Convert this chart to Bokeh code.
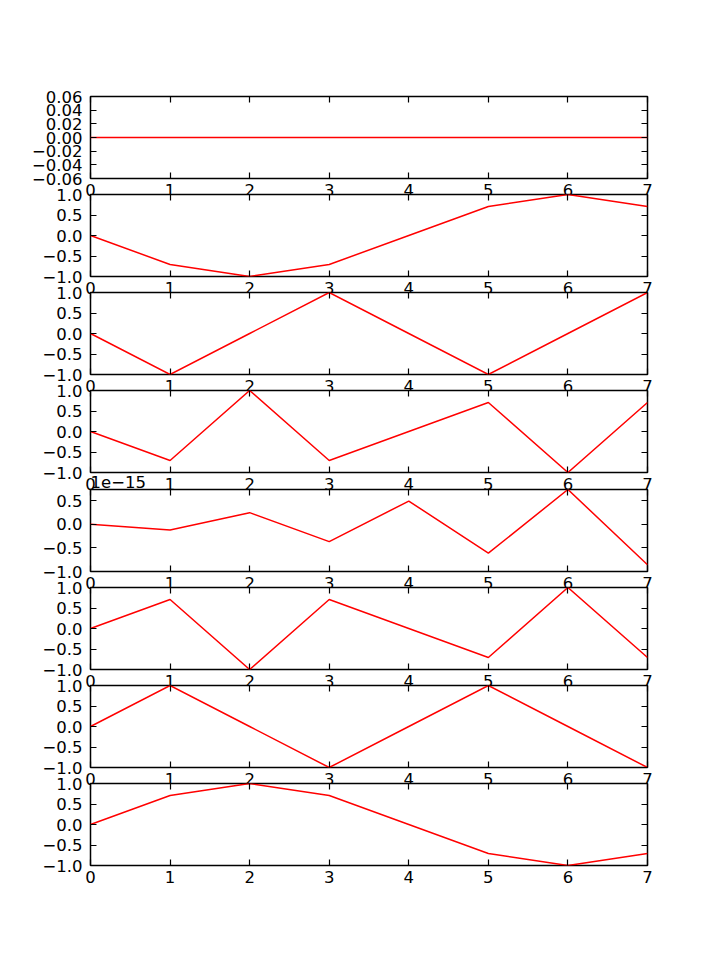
from bokeh.plotting import figure
from bokeh.layouts import column
from bokeh.models import LinearAxis, FixedTicker, CustomJSTickFormatter, Range1d
from bokeh.embed import file_html
from bokeh.resources import INLINE

# ---- data ----
n = [0, 1, 2, 3, 4, 5, 6, 7]
s0 = [0.0, 0.0, 0.0, 0.0, 0.0, 0.0, 0.0, 0.0]
s1 = [0.0, -0.707, -1.0, -0.707, 0.0, 0.707, 1.0, 0.707]
s2 = [0.0, -1.0, 0.0, 1.0, 0.0, -1.0, 0.0, 1.0]
s3 = [0.0, -0.707, 1.0, -0.707, 0.0, 0.707, -1.0, 0.707]
s4 = [0.0, -0.122, 0.245, -0.367, 0.490, -0.612, 0.735, -0.857]  # in units of 1e-15
s5 = [0.0, 0.707, -1.0, 0.707, 0.0, -0.707, 1.0, -0.707]
s6 = [0.0, 1.0, 0.0, -1.0, 0.0, 1.0, 0.0, -1.0]
s7 = [0.0, 0.707, 1.0, 0.707, 0.0, -0.707, -1.0, -0.707]
series = [s0, s1, s2, s3, s4, s5, s6, s7]

x_ticks = [0, 1, 2, 3, 4, 5, 6, 7]
y_limits = [(-0.06, 0.06), (-1.0, 1.0), (-1.0, 1.0), (-1.0, 1.0),
            (-1.0, 0.735), (-1.0, 1.0), (-1.0, 1.0), (-1.0, 1.0)]
y_ticks = [[-0.06, -0.04, -0.02, 0.0, 0.02, 0.04, 0.06],
           [-1.0, -0.5, 0.0, 0.5, 1.0],
           [-1.0, -0.5, 0.0, 0.5, 1.0],
           [-1.0, -0.5, 0.0, 0.5, 1.0],
           [-1.0, -0.5, 0.0, 0.5],
           [-1.0, -0.5, 0.0, 0.5, 1.0],
           [-1.0, -0.5, 0.0, 0.5, 1.0],
           [-1.0, -0.5, 0.0, 0.5, 1.0]]
y_decimals = [2, 1, 1, 1, 1, 1, 1, 1]
offset_texts = ["", "", "", "", "1e\u221215", "", "", ""]

# ---- layout (page pixel positions of each frame top) ----
frame_tops = [96, 194, 292, 390, 489, 587, 685, 783]
FRAME_W, FRAME_H = 557, 82
LEFT = 90
BT, BB = 44, 30
FONT = "DejaVu Sans"
FS = "16.5px"
TICK = 6

figs = []
for i, ys in enumerate(series):
    top_border = frame_tops[0] if i == 0 else BT
    p = figure(frame_width=FRAME_W, frame_height=FRAME_H,
               x_range=Range1d(n[0], n[-1]),
               y_range=Range1d(*y_limits[i]),
               output_backend="svg", toolbar_location=None,
               min_border_left=LEFT, min_border_right=40,
               min_border_top=top_border, min_border_bottom=BB,
               x_axis_type=None, y_axis_type=None)
    if i > 0:
        gap = frame_tops[i] - frame_tops[i - 1]
        p.margin = (gap - (FRAME_H + BB + BT), 0, 0, 0)
    p.background_fill_color = "white"
    p.border_fill_color = None
    p.outline_line_color = "black"
    p.outline_line_width = 1.5
    p.xgrid.visible = False
    p.ygrid.visible = False

    fmt = CustomJSTickFormatter(args=dict(d=y_decimals[i]),
                                code="return tick.toFixed(d).replace('-', '\u2212');")
    xfmt = CustomJSTickFormatter(code="return tick.toFixed(0).replace('-', '\u2212');")
    blank = CustomJSTickFormatter(code="return '';")

    def style(ax):
        ax.axis_line_color = None
        ax.major_tick_in = TICK
        ax.major_tick_out = 0
        ax.minor_tick_line_color = None
        ax.major_tick_line_color = "black"
        ax.major_tick_line_width = 1.2
        ax.major_label_text_color = "black"
        ax.major_label_text_font = FONT
        ax.major_label_text_font_size = FS

    xb = LinearAxis(ticker=FixedTicker(ticks=x_ticks), formatter=xfmt)
    style(xb)
    xb.major_label_standoff = 5
    p.add_layout(xb, "below")
    xa = LinearAxis(ticker=FixedTicker(ticks=x_ticks), formatter=blank)
    style(xa)
    xa.major_label_standoff = 0
    p.add_layout(xa, "above")

    yl = LinearAxis(ticker=FixedTicker(ticks=y_ticks[i]), formatter=fmt)
    style(yl)
    yl.major_label_standoff = 8
    p.add_layout(yl, "left")
    yr = LinearAxis(ticker=FixedTicker(ticks=y_ticks[i]), formatter=blank)
    style(yr)
    yr.major_label_standoff = 0
    p.add_layout(yr, "right")

    p.line(n, ys, line_color="red", line_width=1.5)

    if offset_texts[i]:
        p.title.text = offset_texts[i]
        p.title.align = "left"
        p.title.text_font = FONT
        p.title.text_font_size = FS
        p.title.text_font_style = "normal"
        p.title.text_color = "black"
        p.title.standoff = 3
    else:
        p.title.visible = False
    figs.append(p)

layout = column(*figs)
open("out.html", "w").write(file_html(layout, INLINE))
